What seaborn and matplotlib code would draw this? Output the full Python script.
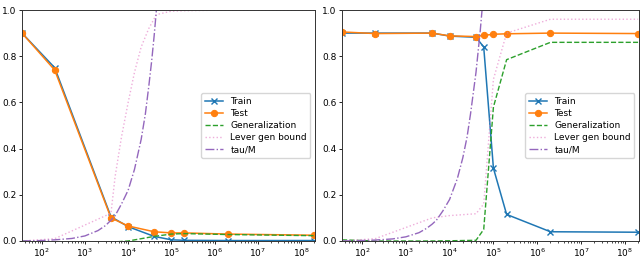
import matplotlib
matplotlib.use("Agg")
import matplotlib.pyplot as plt
import seaborn as sns

# ---- left panel data ----
left_x = [35, 200, 4000, 10000, 40000, 100000, 200000, 2000000, 200000000]
left_train = [0.90, 0.75, 0.105, 0.062, 0.02, 0.005, 0.003, 0.002, 0.002]
left_test = [0.90, 0.74, 0.10, 0.065, 0.04, 0.035, 0.035, 0.03, 0.025]
left_gen = [0.0, -0.01, -0.005, 0.0, 0.02, 0.03, 0.032, 0.028, 0.023]
left_lever_x = [35, 200, 4000, 5000, 7000, 10000, 14000, 20000, 30000, 45000,
                100000, 200000, 2000000, 200000000]
left_lever = [0.0, 0.01, 0.12, 0.28, 0.45, 0.6, 0.73, 0.84, 0.92, 0.98,
              0.995, 0.997, 1.0, 1.0]
left_tau_x = [35, 100, 200, 500, 1000, 2000, 3000, 4000, 5000, 7000, 10000,
              14000, 20000, 25000, 30000, 35000, 40000, 45000, 50000]
left_tau = [0.0, 0.002, 0.005, 0.011, 0.022, 0.045, 0.067, 0.09, 0.11, 0.16, 0.22,
            0.31, 0.44, 0.55, 0.67, 0.78, 0.89, 1.0, 1.1]

# ---- right panel data ----
right_x = [35, 200, 4000, 10000, 40000, 60000, 100000, 200000, 2000000, 200000000]
right_train = [0.90, 0.90, 0.90, 0.887, 0.882, 0.84, 0.315, 0.115, 0.04, 0.038]
right_test = [0.905, 0.898, 0.90, 0.888, 0.885, 0.89, 0.895, 0.897, 0.90, 0.898]
right_gen = [0.005, 0.0, 0.0, 0.001, 0.003, 0.05, 0.58, 0.785, 0.86, 0.86]
right_lever_x = right_x
right_lever = [0.0, 0.01, 0.10, 0.11, 0.118, 0.16, 0.70, 0.90, 0.96, 0.96]
right_tau_x = [35, 100, 200, 500, 1000, 2000, 3000, 4000, 5000, 7000, 10000,
               15000, 20000, 25000, 30000, 40000, 50000, 55000, 60000]
right_tau = [0.0, 0.002, 0.004, 0.009, 0.018, 0.036, 0.055, 0.073, 0.09, 0.13, 0.18,
             0.27, 0.36, 0.45, 0.55, 0.73, 0.91, 1.0, 1.09]

FS = 6.5
plt.rcParams['font.family'] = ['DejaVu Sans']
plt.rcParams['font.size'] = FS

C_TRAIN = '#1f77b4'
C_TEST = '#ff7f0e'
C_GEN = '#2ca02c'
C_LEVER = '#e377c2'
C_TAU = '#9467bd'


def draw(ax, x, train, test, gen, lever_x, lever, tau_x, tau):
    sns.lineplot(x=x, y=train, ax=ax, color=C_TRAIN, marker='x', markersize=4,
                 markeredgecolor=C_TRAIN, markeredgewidth=1.0, lw=1.1, label='Train')
    sns.lineplot(x=x, y=test, ax=ax, color=C_TEST, marker='o', markersize=4.5,
                 markeredgecolor=C_TEST, lw=1.1, label='Test')
    sns.lineplot(x=x, y=gen, ax=ax, color=C_GEN, linestyle='--', lw=1.0,
                 label='Generalization')
    sns.lineplot(x=lever_x, y=lever, ax=ax, color=C_LEVER, linestyle=':', lw=1.0,
                 alpha=0.6, label='Lever gen bound')
    sns.lineplot(x=tau_x, y=tau, ax=ax, color=C_TAU, linestyle='-.', lw=1.0,
                 label='tau/M')
    ax.set_xscale('log')
    ax.set_xlim(35, 2.1e8)
    ax.set_ylim(0.0, 1.0)
    ax.set_yticks([0.0, 0.2, 0.4, 0.6, 0.8, 1.0])
    ax.tick_params(labelsize=FS, length=2.5, width=0.6, pad=1.5)
    ax.tick_params(which='minor', length=1.5, width=0.5)
    for s in ax.spines.values():
        s.set_linewidth(0.7)
        s.set_color('#333333')
    ax.legend(loc='center right', fontsize=FS, handlelength=2.0,
              borderpad=0.4, labelspacing=0.35)


fig = plt.figure(figsize=(6.43, 2.58), dpi=100)
ax1 = fig.add_axes([22 / 643, 17 / 258, 293 / 643, 231 / 258])
ax2 = fig.add_axes([342 / 643, 17 / 258, 297 / 643, 231 / 258])

draw(ax1, left_x, left_train, left_test, left_gen, left_lever_x, left_lever, left_tau_x, left_tau)
draw(ax2, right_x, right_train, right_test, right_gen, right_lever_x, right_lever, right_tau_x, right_tau)

plt.savefig('out.png', dpi=100)
plt.close(fig)
